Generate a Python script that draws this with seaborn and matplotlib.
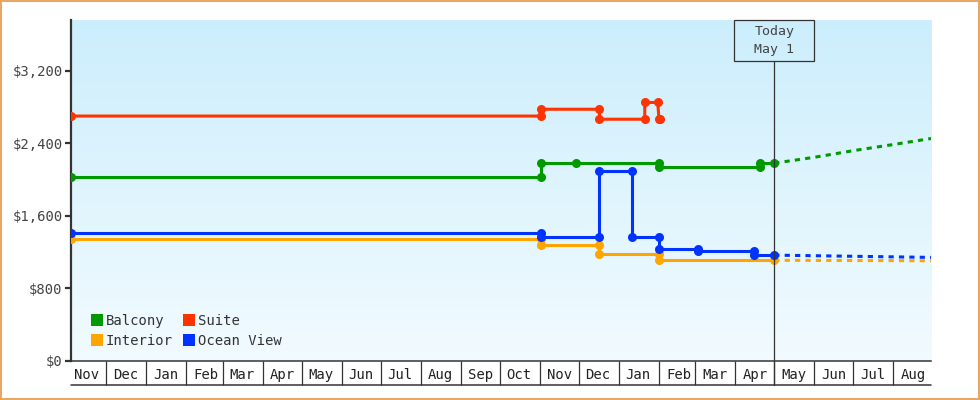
import numpy as np
import pandas as pd
import matplotlib
matplotlib.use("Agg")
import matplotlib.pyplot as plt
import matplotlib.dates as mdates
from matplotlib.lines import Line2D
from matplotlib.patches import Rectangle
from matplotlib.ticker import FixedLocator, FuncFormatter, NullFormatter
import seaborn as sns

sns.set_style("white")
plt.rcParams["font.family"] = ["DejaVu Sans Mono", "DejaVu Sans"]

# ---------------- data ----------------
cabins = ["Balcony", "Interior", "Suite", "Ocean View"]
draw_order = ["Interior", "Ocean View", "Balcony", "Suite"]
palette = {"Balcony": "#009900", "Interior": "#ffa500",
           "Suite": "#ff3300", "Ocean View": "#0033ff"}

suite_dates = ["2021-11-04", "2022-11-02", "2022-11-02", "2022-12-17", "2022-12-17",
               "2023-01-21", "2023-01-21", "2023-01-31", "2023-02-01", "2023-02-02"]
suite_prices = [2700, 2700, 2775, 2775, 2665, 2665, 2850, 2850, 2665, 2665]

balcony_dates = ["2021-11-04", "2022-11-02", "2022-11-02", "2022-11-29", "2023-02-01",
                 "2023-02-01", "2023-04-20", "2023-04-20", "2023-05-01"]
balcony_prices = [2025, 2025, 2180, 2180, 2180, 2135, 2135, 2180, 2180]

ocean_dates = ["2021-11-04", "2022-11-02", "2022-11-02", "2022-12-17", "2022-12-17",
               "2023-01-11", "2023-01-11", "2023-02-01", "2023-02-01", "2023-03-03",
               "2023-03-03", "2023-04-15", "2023-04-15", "2023-05-01"]
ocean_prices = [1405, 1405, 1360, 1360, 2095, 2095, 1360, 1360, 1230, 1230,
                1215, 1215, 1165, 1165]

interior_dates = ["2021-11-04", "2022-11-02", "2022-11-02", "2022-12-17", "2022-12-17",
                  "2023-02-01", "2023-02-01", "2023-05-01"]
interior_prices = [1340, 1340, 1275, 1275, 1175, 1175, 1108, 1108]

balcony_fc_dates = ["2023-05-01", "2023-06-01", "2023-07-01", "2023-08-01", "2023-08-30"]
balcony_fc_prices = [2180, 2245, 2318, 2386, 2452]
ocean_fc_dates = ["2023-05-01", "2023-08-30"]
ocean_fc_prices = [1165, 1140]
interior_fc_dates = ["2023-05-01", "2023-08-30"]
interior_fc_prices = [1108, 1103]

month_labels = ["Nov", "Dec", "Jan", "Feb", "Mar", "Apr", "May", "Jun", "Jul", "Aug",
                "Sep", "Oct", "Nov", "Dec", "Jan", "Feb", "Mar", "Apr", "May", "Jun",
                "Jul", "Aug"]
y_ticks = [0, 800, 1600, 2400, 3200]
today = "2023-05-01"
today_label = "Today\nMay 1"
x_start, x_end = "2021-11-04", "2023-08-30"

hist = pd.concat([
    pd.DataFrame({"date": pd.to_datetime(d), "price": p, "cabin": c})
    for c, d, p in [("Suite", suite_dates, suite_prices),
                    ("Balcony", balcony_dates, balcony_prices),
                    ("Ocean View", ocean_dates, ocean_prices),
                    ("Interior", interior_dates, interior_prices)]
], ignore_index=True)
fc = pd.concat([
    pd.DataFrame({"date": pd.to_datetime(d), "price": p, "cabin": c})
    for c, d, p in [("Balcony", balcony_fc_dates, balcony_fc_prices),
                    ("Ocean View", ocean_fc_dates, ocean_fc_prices),
                    ("Interior", interior_fc_dates, interior_fc_prices)]
], ignore_index=True)

# ---------------- figure ----------------
fig = plt.figure(figsize=(9.8, 4.0), dpi=100)
fig.patch.set_facecolor("white")
ax = fig.add_axes([71 / 980, 1 - 360.7 / 400, 860 / 980, 340.7 / 400])

# gradient background
grad = np.linspace(0, 1, 256).reshape(-1, 1)
top_c = np.array([0xcc, 0xee, 0xfc]) / 255
bot_c = np.array([0xf2, 0xfb, 0xff]) / 255
img = top_c[None, None, :] * (1 - grad[..., None]) + bot_c[None, None, :] * grad[..., None]
ax.imshow(img, extent=[0, 1, 0, 1], transform=ax.transAxes, aspect="auto",
          zorder=0, interpolation="bicubic")

lw = 2.2
for cab in draw_order:
    sub = fc[fc.cabin == cab]
    if len(sub):
        sns.lineplot(data=sub, x="date", y="price", color=palette[cab], ax=ax,
                     estimator=None, sort=False, linewidth=lw,
                     linestyle=(0, (1.7, 1.7)), legend=False, zorder=3)
for cab in draw_order:
    sub = hist[hist.cabin == cab]
    sns.lineplot(data=sub, x="date", y="price", color=palette[cab], ax=ax,
                 estimator=None, sort=False, linewidth=lw, marker="o",
                 markersize=6.5, markeredgewidth=0, legend=False, zorder=4)

ax.set_xlim(pd.Timestamp(x_start), pd.Timestamp(x_end))
ax.set_ylim(0, 3760)
ax.set_xlabel("")
ax.set_ylabel("")

# today marker
t = pd.Timestamp(today)
box_h = 40.7 / 340.7
ax.axvline(t, ymin=-24.3 / 340.7, ymax=1 - box_h, color="#333333", lw=0.9,
           zorder=5, clip_on=False)
tx = mdates.date2num(t)
ax.add_patch(Rectangle((tx - 30.9, 1 - box_h), 61.8, box_h,
                       transform=ax.get_xaxis_transform(), fill=False,
                       edgecolor="#333333", lw=0.9, zorder=6, clip_on=False))
ax.text(t, 1 - box_h / 2, today_label, transform=ax.get_xaxis_transform(),
        ha="center", va="center", fontsize=9.5, color="#444444",
        linespacing=1.45, zorder=7)

# y axis
ax.yaxis.set_major_locator(FixedLocator(y_ticks))
ax.yaxis.set_major_formatter(FuncFormatter(lambda v, _: f"${v:,.0f}"))
ax.tick_params(axis="y", which="major", left=True, direction="out", length=4,
               width=1.6, color="#333333", labelsize=10, labelcolor="#444444", pad=2)

# x axis: month boxes
month_starts = pd.date_range("2021-12-01", "2023-08-01", freq="MS")
label_pos = pd.date_range("2021-11-01", "2023-08-01", freq="MS") + pd.Timedelta(days=15)
ax.xaxis.set_minor_locator(FixedLocator(mdates.date2num(month_starts)))
ax.xaxis.set_minor_formatter(NullFormatter())
ax.xaxis.set_major_locator(FixedLocator(mdates.date2num(label_pos)))
ax.set_xticklabels(month_labels)
ax.tick_params(axis="x", which="major", bottom=True, length=0, pad=5, labelsize=10,
               labelcolor="#222222")
ax.tick_params(axis="x", which="minor", bottom=True, direction="out", length=17.5,
               width=0.9, color="#333333")
ax.plot([0, 1], [-24.3 / 340.7] * 2, transform=ax.transAxes, color="#333333",
        lw=1.1, clip_on=False, zorder=5)

for s in ["top", "right"]:
    ax.spines[s].set_visible(False)
ax.spines["left"].set_color("#333333")
ax.spines["left"].set_linewidth(1.6)
ax.spines["bottom"].set_color("#333333")
ax.spines["bottom"].set_linewidth(1.1)
ax.grid(False)

# legend
handles = [Line2D([], [], marker="s", linestyle="", markersize=8,
                  markerfacecolor=palette[c], markeredgewidth=0, label=c) for c in cabins]
leg = ax.legend(handles=handles, ncol=2, loc="lower left",
                bbox_to_anchor=(0.024, 0.037), frameon=False, fontsize=10,
                handlelength=0.8, handletextpad=0.2, columnspacing=0.8,
                labelspacing=0.45, borderpad=0, borderaxespad=0)
for txt in leg.get_texts():
    txt.set_color("#333333")

# outer border
fig.patches.append(Rectangle((1 / 980, 1 / 400), 1 - 2 / 980, 1 - 2 / 400,
                             transform=fig.transFigure, fill=False,
                             edgecolor="#e8a765", lw=1.5))

fig.savefig("out.png", dpi=100)
